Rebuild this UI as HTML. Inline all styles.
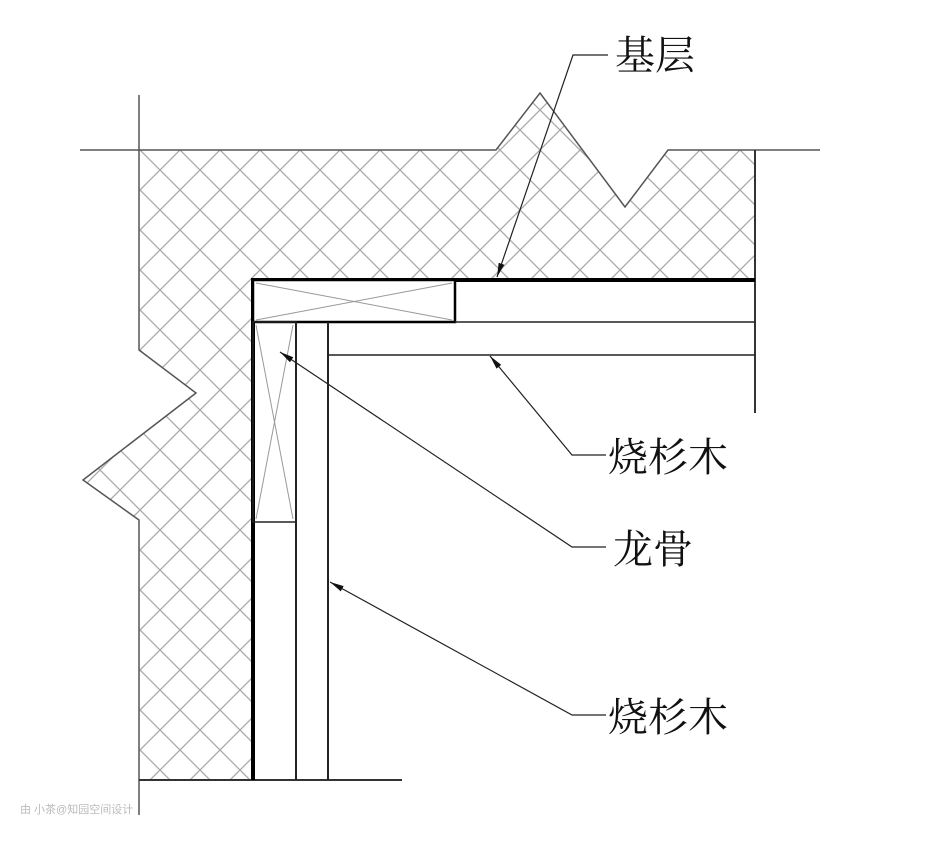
<!DOCTYPE html>
<html><head><meta charset="utf-8"><style>
html,body{margin:0;padding:0;background:#fff}
text{font-family:"Noto Serif CJK SC","Liberation Serif",serif;font-size:40px;fill:#111}
</style></head><body>
<svg width="930" height="838" viewBox="0 0 930 838" xmlns="http://www.w3.org/2000/svg">
<defs>
<pattern id="h" x="0" y="10" width="40" height="40" patternUnits="userSpaceOnUse">
<path d="M0 0L40 40M40 0L0 40M-1 39L1 41M39 -1L41 1" stroke="#a8a8a8" stroke-width="1.3" fill="none"/>
</pattern>
<marker id="a" markerWidth="14" markerHeight="8" refX="14" refY="4" orient="auto" markerUnits="userSpaceOnUse">
<path d="M0 1L14 4L0 7Z" fill="#111"/>
</marker>
</defs>
<path d="M139 150L496 150L540 93L625 207L668 150L755 150L755 279L252 279L252 780L139 780L139 520L83 480L196 393L139 350Z" fill="url(#h)" stroke="none"/>
<path d="M80 150L496 150L540 93L625 207L668 150L820 150" fill="none" stroke="#555" stroke-width="1.5"/>
<path d="M139 95L139 350L196 393L83 480L139 520L139 815" fill="none" stroke="#555" stroke-width="1.5"/>
<line x1="139" y1="780" x2="402" y2="780" stroke="#333" stroke-width="2"/>
<line x1="755" y1="150" x2="755" y2="413" stroke="#333" stroke-width="2"/>
<path d="M253 780L253 280L755 280" fill="none" stroke="#000" stroke-width="4"/>
<rect x="253" y="280" width="202" height="42" fill="#fff" stroke="#000" stroke-width="2.5"/>
<path d="M256 283L452 320M256 320L452 283" stroke="#999" stroke-width="1"/>
<line x1="455" y1="322" x2="755" y2="322" stroke="#222" stroke-width="1.5"/>
<line x1="328" y1="355" x2="755" y2="355" stroke="#222" stroke-width="1.5"/>
<line x1="296" y1="322" x2="296" y2="780" stroke="#222" stroke-width="2"/>
<line x1="328" y1="322" x2="328" y2="780" stroke="#222" stroke-width="2"/>
<rect x="253" y="322" width="43" height="200" fill="none" stroke="#222" stroke-width="1.5"/>
<path d="M256 325L293 519M293 325L256 519" stroke="#999" stroke-width="1"/>
<g stroke="#222" stroke-width="1.2" fill="none">
<path d="M608 55L573 55L497 277" marker-end="url(#a)"/>
<path d="M606 455L572 455L490 356" marker-end="url(#a)"/>
<path d="M606 547L572 547L280 352" marker-end="url(#a)"/>
<path d="M606 715L572 715L330 582" marker-end="url(#a)"/>
</g>
<text x="615" y="69">基层</text>
<text x="608" y="471">烧杉木</text>
<text x="613" y="563">龙骨</text>
<text x="608" y="731">烧杉木</text>
<text x="20" y="813" style="font-size:11px;fill:#bbb;font-family:'Liberation Sans','Noto Sans CJK SC',sans-serif">由 小茶@知园空间设计</text>
</svg>
</body></html>
